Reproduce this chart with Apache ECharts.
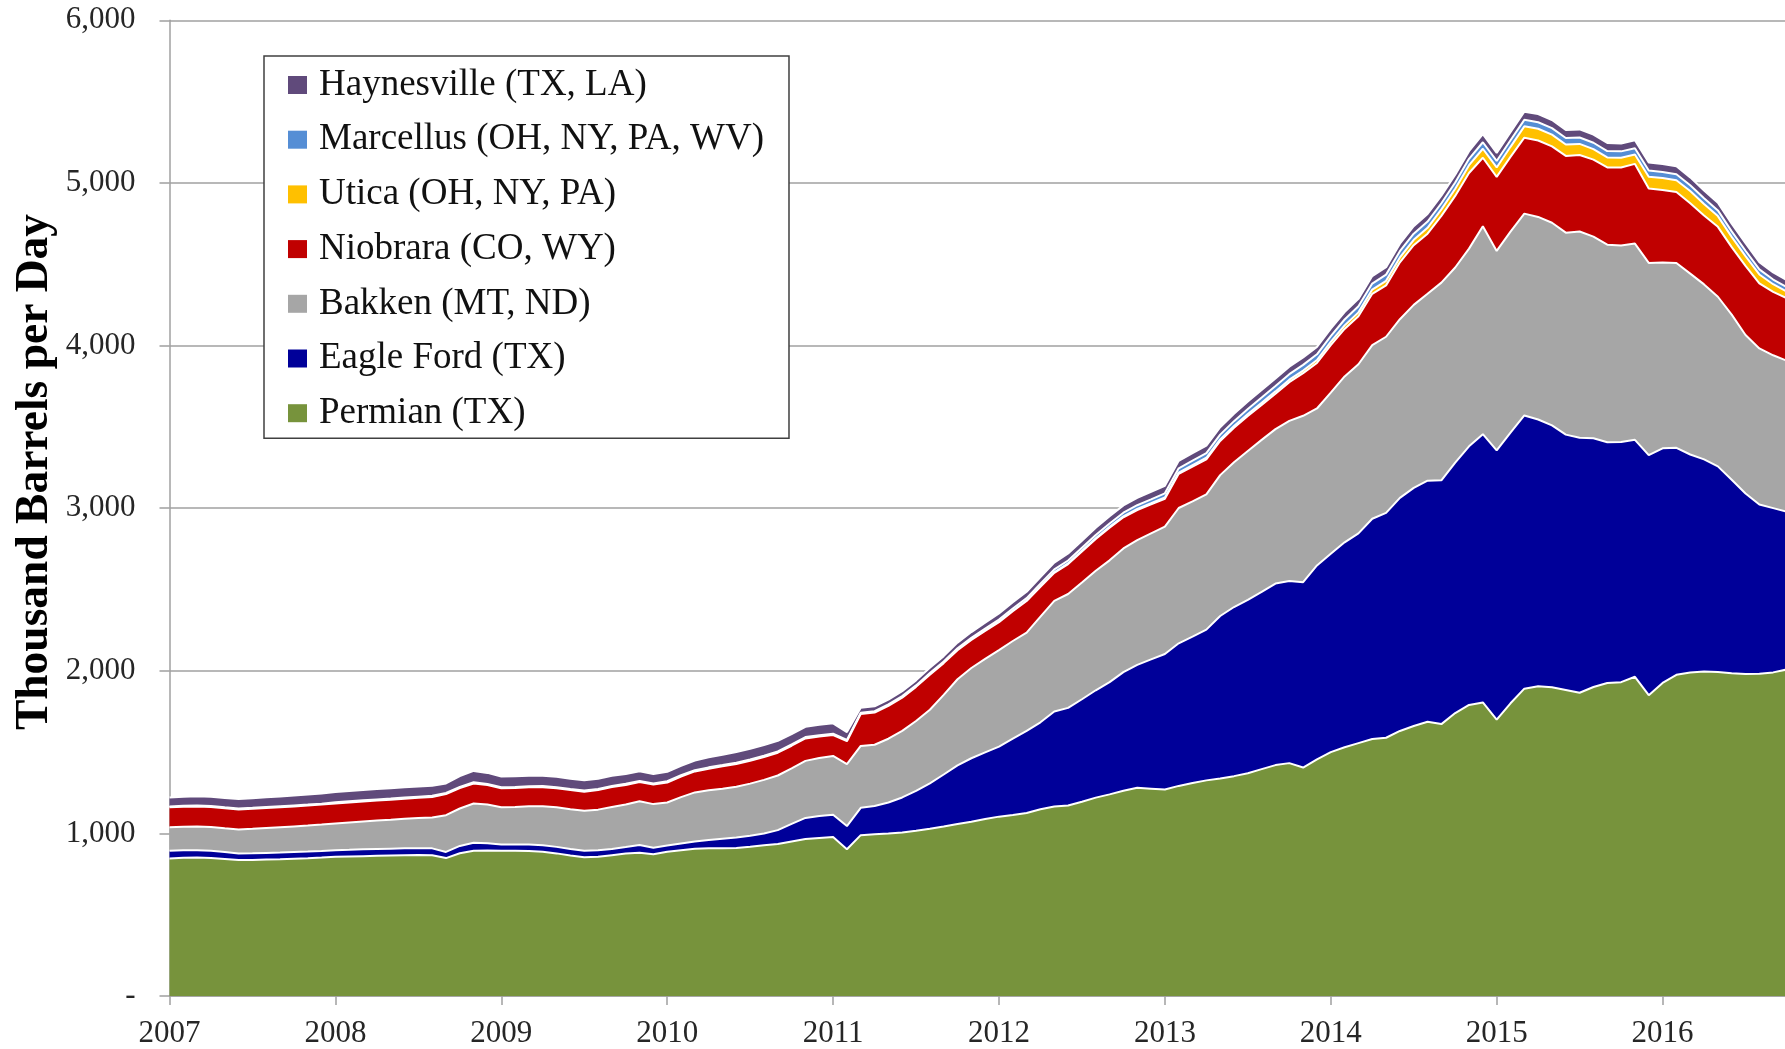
<!DOCTYPE html>
<html><head><meta charset="utf-8">
<script src="https://cdn.jsdelivr.net/npm/echarts/dist/echarts.min.js"></script>
<style>html,body{margin:0;padding:0;background:#fff}#c{width:1785px;height:1049px}</style>
</head><body><div id="c"></div>
<script>
// Monthly categories, Jan 2007 .. Oct 2016
const categories = [];
for (let y = 2007; y <= 2016; y++) for (let m = 1; m <= 12; m++) categories.push(y + '-' + (m < 10 ? '0' + m : m));
categories.length = 118;

const yearLabels = ['2007','2008','2009','2010','2011','2012','2013','2014','2015','2016'];
const yTickLabels = ['-','1,000','2,000','3,000','4,000','5,000','6,000'];

const permian = [846,850,851,849,843,836,837,839,841,844,847,851,
 856,858,860,862,864,866,867,866,848,878,893,894,
 893,893,892,887,877,864,853,856,866,876,881,872,
 887,896,905,908,909,910,918,927,935,950,965,972,
 978,902,989,995,1000,1006,1016,1028,1042,1058,1072,1088,
 1103,1113,1125,1148,1165,1172,1195,1220,1240,1262,1280,1275,
 1270,1292,1310,1326,1337,1352,1370,1395,1420,1432,1405,1455,
 1500,1530,1555,1580,1588,1630,1660,1686,1672,1740,1790,1805,
 1700,1800,1890,1905,1898,1882,1865,1900,1925,1930,1963,1850,
 1925,1975,1990,1995,1992,1985,1980,1982,1990,2008];
const eagleFord = [47,46,45,44,42,41,41,41,41,41,41,41,
 41,41,42,42,42,42,42,42,38,45,49,45,
 38,38,39,40,40,40,40,40,38,40,48,40,
 38,42,45,52,58,64,68,72,85,108,130,135,
 136,143,168,173,190,215,245,280,320,360,390,410,
 431,470,506,535,585,600,630,660,690,730,756,795,
 833,877,900,927,1000,1040,1066,1090,1116,1120,1140,1193,
 1220,1260,1290,1355,1383,1433,1465,1483,1499,1540,1590,1650,
 1655,1665,1680,1640,1611,1570,1568,1530,1480,1477,1457,1476,
 1443,1396,1340,1305,1265,1190,1110,1040,1010,970];
const bakken = [144,145,146,146,146,147,150,153,156,158,160,162,
 164,168,171,175,178,182,186,190,226,230,242,238,
 230,232,236,240,243,245,246,250,258,262,269,268,
 265,285,302,305,308,313,320,330,336,342,351,356,
 362,381,381,377,392,409,430,452,490,530,555,575,
 593,600,604,650,680,700,718,735,749,760,767,775,
 783,832,832,832,866,890,916,935,950,985,1023,965,
 990,1020,1040,1067,1083,1099,1125,1149,1216,1200,1216,1278,
 1227,1235,1241,1246,1246,1242,1268,1240,1215,1208,1207,1182,
 1143,1137,1112,1076,1043,1015,975,960,940,928];
const niobrara = [123,123,123,123,123,123,123,123,123,123,123,123,
 123,123,123,123,123,123,124,126,130,126,123,120,
 116,116,116,117,117,117,117,120,123,120,118,120,
 123,127,129,133,137,140,140,140,140,139,138,133,
 129,141,196,198,202,205,210,216,195,178,172,172,
 172,183,194,183,172,184,190,195,200,192,185,178,
 172,210,214,215,210,212,215,215,218,238,262,280,
 292,292,295,316,316,350,367,370,410,440,465,422,
 455,460,467,470,470,472,471,473,475,480,490,458,
 445,436,433,424,430,415,425,400,390,385];
const utica = [1,1,1,1,1,1,1,1,1,1,1,1,
 1,1,1,1,1,1,1,1,1,1,1,1,
 1,1,1,1,1,1,1,1,1,1,1,1,
 1,1,1,1,1,1,1,1,1,1,1,1,
 1,1,1,1,1,1,1,1,1,2,2,2,
 3,3,3,4,4,4,5,5,6,6,7,7,
 8,8,9,10,10,11,12,13,14,15,16,18,
 20,22,24,26,28,30,33,36,40,44,48,55,
 58,62,70,72,72,70,68,65,62,60,58,72,
 74,72,75,70,66,63,60,55,47,40];
const marcellus = [5,5,5,5,5,5,5,5,5,5,5,5,
 6,6,6,6,6,6,6,6,6,6,6,6,
 6,6,6,6,6,6,6,6,6,6,6,6,
 7,7,7,7,7,7,7,7,7,7,7,7,
 7,7,7,7,8,8,8,9,9,10,11,12,
 13,14,15,16,17,18,19,20,21,22,23,24,
 25,26,27,28,29,30,31,32,33,34,35,35,
 36,36,37,37,38,38,38,38,38,39,39,40,
 40,40,40,40,40,40,39,39,39,39,38,38,
 37,37,36,36,35,34,33,31,29,28];
const haynesville = [55,56,57,57,58,58,59,60,60,61,62,63,
 63,64,64,64,64,64,63,62,58,66,70,68,
 66,66,65,64,64,63,63,63,62,60,59,58,
 58,58,59,62,64,66,66,66,65,64,63,64,
 64,48,30,30,30,31,31,32,33,35,36,37,
 38,38,39,40,42,43,43,44,44,45,45,46,
 46,46,46,46,46,46,46,46,46,46,46,46,
 46,46,46,46,46,46,46,47,47,47,47,50,
 50,50,50,50,50,50,50,50,50,49,49,49,
 49,49,48,48,47,47,46,45,44,43];

const seriesDefs = [
  ['Permian (TX)', permian, '#77933C'],
  ['Eagle Ford (TX)', eagleFord, '#000099'],
  ['Bakken (MT, ND)', bakken, '#A6A6A6'],
  ['Niobrara (CO, WY)', niobrara, '#C00000'],
  ['Utica (OH, NY, PA)', utica, '#FFC000'],
  ['Marcellus (OH, NY, PA, WV)', marcellus, '#558ED5'],
  ['Haynesville (TX, LA)', haynesville, '#604A7B']
];

const FONT = '"Liberation Serif", "DejaVu Serif", serif';
const chart = echarts.init(document.getElementById('c'), null, {renderer: 'canvas'});
const everyYear = (idx) => idx % 12 === 0;

chart.setOption({
  animation: false,
  backgroundColor: '#fff',
  grid: {left: 169.5, top: 20.3, width: 1617.5, height: 975.7, containLabel: false, outerBoundsMode: 'none'},
  xAxis: {
    type: 'category', data: categories, boundaryGap: false,
    axisLine: {show: true, lineStyle: {color: '#a0a0a0', width: 1.5}},
    axisTick: {show: true, length: 9, interval: everyYear, lineStyle: {color: '#a0a0a0', width: 1.5}},
    axisLabel: {interval: everyYear, margin: 22, color: '#262626', fontFamily: FONT, fontSize: 31,
      formatter: (v, idx) => yearLabels[idx / 12] || ''},
    splitLine: {show: false}
  },
  yAxis: {
    type: 'value', min: 0, max: 6000, interval: 1000,
    axisLine: {show: true, lineStyle: {color: '#a0a0a0', width: 1.5}},
    axisTick: {show: true, length: 10, lineStyle: {color: '#a0a0a0', width: 1.5}},
    axisLabel: {margin: 34, color: '#262626', fontFamily: FONT, fontSize: 31,
      formatter: (v) => yTickLabels[Math.round(v / 1000)]},
    splitLine: {show: true, lineStyle: {color: '#a0a0a0', width: 1.5}}
  },
  legend: {
    orient: 'vertical', left: 264, top: 56, z: 20,
    data: seriesDefs.map(d => d[0]).reverse(),
    icon: 'rect', itemWidth: 19, itemHeight: 18, itemGap: 14.7,
    padding: [9, 25, 5, 24],
    backgroundColor: '#fff', borderColor: '#404040', borderWidth: 1.5, borderRadius: 0,
    itemStyle: {borderWidth: 0},
    textStyle: {fontFamily: FONT, fontSize: 37, lineHeight: 40, color: '#111', padding: [0, 0, 0, 7]},
    selectedMode: false
  },
  graphic: [{
    type: 'text', x: 35, y: 472, rotation: Math.PI / 2,
    style: {text: 'Thousand Barrels per Day', fontFamily: FONT, fontWeight: 'bold', fontSize: 45.5,
      fill: '#000', align: 'center', verticalAlign: 'middle', textAlign: 'center', textVerticalAlign: 'middle'}
  }],
  series: seriesDefs.map((d, i) => ({
    name: d[0], type: 'line', stack: 'total', data: d[1],
    z: 10 - i, symbol: 'none', showSymbol: false, smooth: false,
    itemStyle: {color: d[2]},
    lineStyle: {color: '#ffffff', width: 2},
    areaStyle: {color: d[2], opacity: 1},
    emphasis: {disabled: true}
  }))
});
</script></body></html>
